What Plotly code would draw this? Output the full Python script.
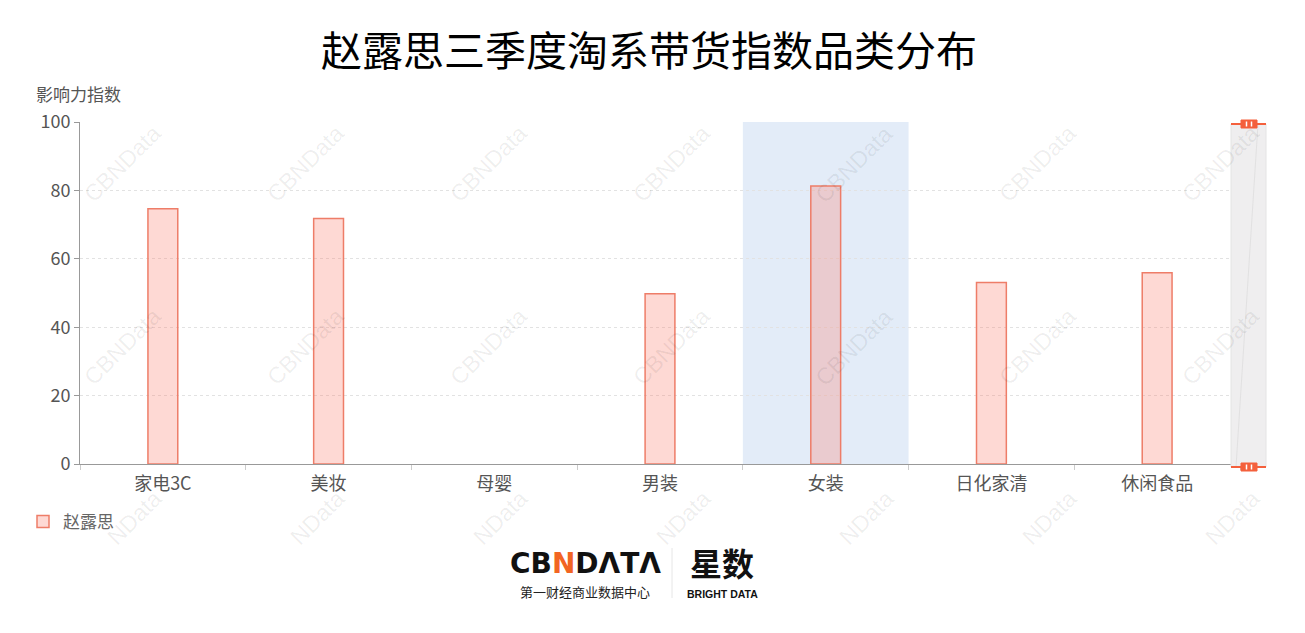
import plotly.graph_objects as go

categories = ["家电3C", "美妆", "母婴", "男装", "女装", "日化家清", "休闲食品"]
values = [74.6, 71.8, 0, 49.8, 81.3, 53.1, 55.9]
series_name = "赵露思"
title_text = "赵露思三季度淘系带货指数品类分布"
y_title = "影响力指数"
y_ticks = [0, 20, 40, 60, 80, 100]
highlight_category = "女装"

W, H = 1305, 633
L, R, T, B = 80, 65, 122, 169
PW = W - L - R
PH = H - T - B

FONT = "Noto Sans CJK SC, Microsoft YaHei, sans-serif"


def px_x(x):
    return (x - L) / PW


def px_y(y):
    return (H - B - y) / PH


fig = go.Figure()
fig.add_trace(go.Bar(
    x=categories,
    y=values,
    name=series_name,
    marker=dict(color="rgba(250,120,100,0.28)",
                line=dict(color="#ee7d68", width=[1.5 if v > 0 else 0 for v in values])),
    showlegend=True,
))

shapes = []
# axisPointer shadow on highlighted category
hi = categories.index(highlight_category)
shapes.append(dict(type="rect", xref="x", yref="paper", x0=hi - 0.5, x1=hi + 0.5, y0=0, y1=1,
                   fillcolor="#e3ecf8", line=dict(width=0), layer="below"))

# vertical data-zoom slider on the right
sx0, sx1 = px_x(1231), px_x(1266)
sy0, sy1 = px_y(467), px_y(124)
shapes.append(dict(type="rect", xref="paper", yref="paper", x0=sx0, x1=sx1, y0=sy0, y1=sy1,
                   fillcolor="#efeeef", line=dict(color="#e4e4e4", width=1)))
shapes.append(dict(type="line", xref="paper", yref="paper", x0=px_x(1236), x1=px_x(1258),
                   y0=sy0, y1=sy1, line=dict(color="rgba(200,200,200,0.35)", width=1)))
for yy in (124, 467):
    shapes.append(dict(type="line", xref="paper", yref="paper", x0=px_x(1231), x1=px_x(1266),
                       y0=px_y(yy), y1=px_y(yy), line=dict(color="#f4603c", width=2)))
    shapes.append(dict(type="rect", xref="paper", yref="paper", x0=px_x(1241), x1=px_x(1257),
                       y0=px_y(yy + 4), y1=px_y(yy - 4), fillcolor="#f4603c",
                       line=dict(color="#f4603c", width=1)))
    for bx in (1246.5, 1251.5):
        shapes.append(dict(type="line", xref="paper", yref="paper", x0=px_x(bx), x1=px_x(bx),
                           y0=px_y(yy + 2.5), y1=px_y(yy - 2.5), line=dict(color="white", width=1.5)))

# logo separator
shapes.append(dict(type="line", xref="paper", yref="paper", x0=px_x(672), x1=px_x(672),
                   y0=px_y(598), y1=px_y(548), line=dict(color="#e6e6e6", width=1)))

annotations = []
# watermarks
cols = [122, 305, 488, 671, 854, 1037, 1220]
for cx in cols:
    for cy in (164, 347):
        annotations.append(dict(text="CBNData", xref="paper", yref="paper", x=px_x(cx), y=px_y(cy),
                                showarrow=False, textangle=-45, xanchor="center", yanchor="middle",
                                font=dict(family="Arial, Liberation Sans, sans-serif", size=23,
                                          color="rgba(0,0,0,0.07)")))
    annotations.append(dict(text="NData", xref="paper", yref="paper", x=px_x(cx + 12), y=px_y(518),
                            showarrow=False, textangle=-45, xanchor="center", yanchor="middle",
                            font=dict(family="Arial, Liberation Sans, sans-serif", size=23,
                                      color="rgba(0,0,0,0.07)")))

# y axis title
annotations.append(dict(text=y_title, xref="paper", yref="paper", x=px_x(34), y=px_y(94),
                        xanchor="left", yanchor="middle", showarrow=False,
                        font=dict(family=FONT, size=17, color="#555")))

# logo
annotations.append(dict(text="<b>CB<span style='color:#f26522'>N</span>DΛTΛ</b>", xref="paper", yref="paper",
                        x=px_x(585), y=px_y(563), xanchor="center", yanchor="middle", showarrow=False,
                        font=dict(family="DejaVu Sans, sans-serif", size=28, color="#111")))
annotations.append(dict(text="第一财经商业数据中心", xref="paper", yref="paper",
                        x=px_x(585), y=px_y(591), xanchor="center", yanchor="middle", showarrow=False,
                        font=dict(family=FONT, size=13, color="#222")))
annotations.append(dict(text="<b>星数</b>", xref="paper", yref="paper",
                        x=px_x(722), y=px_y(562), xanchor="center", yanchor="middle", showarrow=False,
                        font=dict(family=FONT, size=32, color="#111")))
annotations.append(dict(text="<b>BRIGHT DATA</b>", xref="paper", yref="paper",
                        x=px_x(722), y=px_y(594), xanchor="center", yanchor="middle", showarrow=False,
                        font=dict(family="Liberation Sans, Arial, sans-serif", size=10.5, color="#111")))

fig.update_layout(
    width=W, height=H,
    margin=dict(l=L, r=R, t=T, b=B),
    paper_bgcolor="white", plot_bgcolor="rgba(0,0,0,0)",
    title=dict(text=title_text, x=649 / W, xanchor="center", xref="container",
               y=1 - 52 / H, yanchor="middle", yref="container",
               font=dict(family=FONT, size=41, color="#000")),
    font=dict(family=FONT, size=17, color="#666"),
    bargap=0.82,
    showlegend=True,
    legend=dict(x=px_x(23), y=px_y(522), xanchor="left", yanchor="middle", orientation="h",
                font=dict(family=FONT, size=17, color="#666"), bgcolor="rgba(0,0,0,0)",
                itemwidth=30),
    shapes=shapes,
    annotations=annotations,
    xaxis=dict(type="category", showgrid=False, showline=True, linecolor="#999", linewidth=1,
               ticks="outside", tickson="boundaries", ticklen=5, tickcolor="#ccc",
               ticklabelstandoff=3,
               tickfont=dict(family=FONT, size=18, color="#555"), zeroline=False,
               fixedrange=True),
    yaxis=dict(range=[0, 100], tickvals=y_ticks, showgrid=True, gridcolor="#e2e2e2", griddash="dot",
               showline=True, linecolor="#999", linewidth=1, ticks="outside", ticklen=5,
               tickcolor="#999", tickfont=dict(family=FONT, size=18, color="#555"),
               zeroline=False, fixedrange=True),
)

fig.write_html("out.html", config={"displayModeBar": False},
               post_script="document.body.style.margin='0';document.body.style.overflow='hidden';")
